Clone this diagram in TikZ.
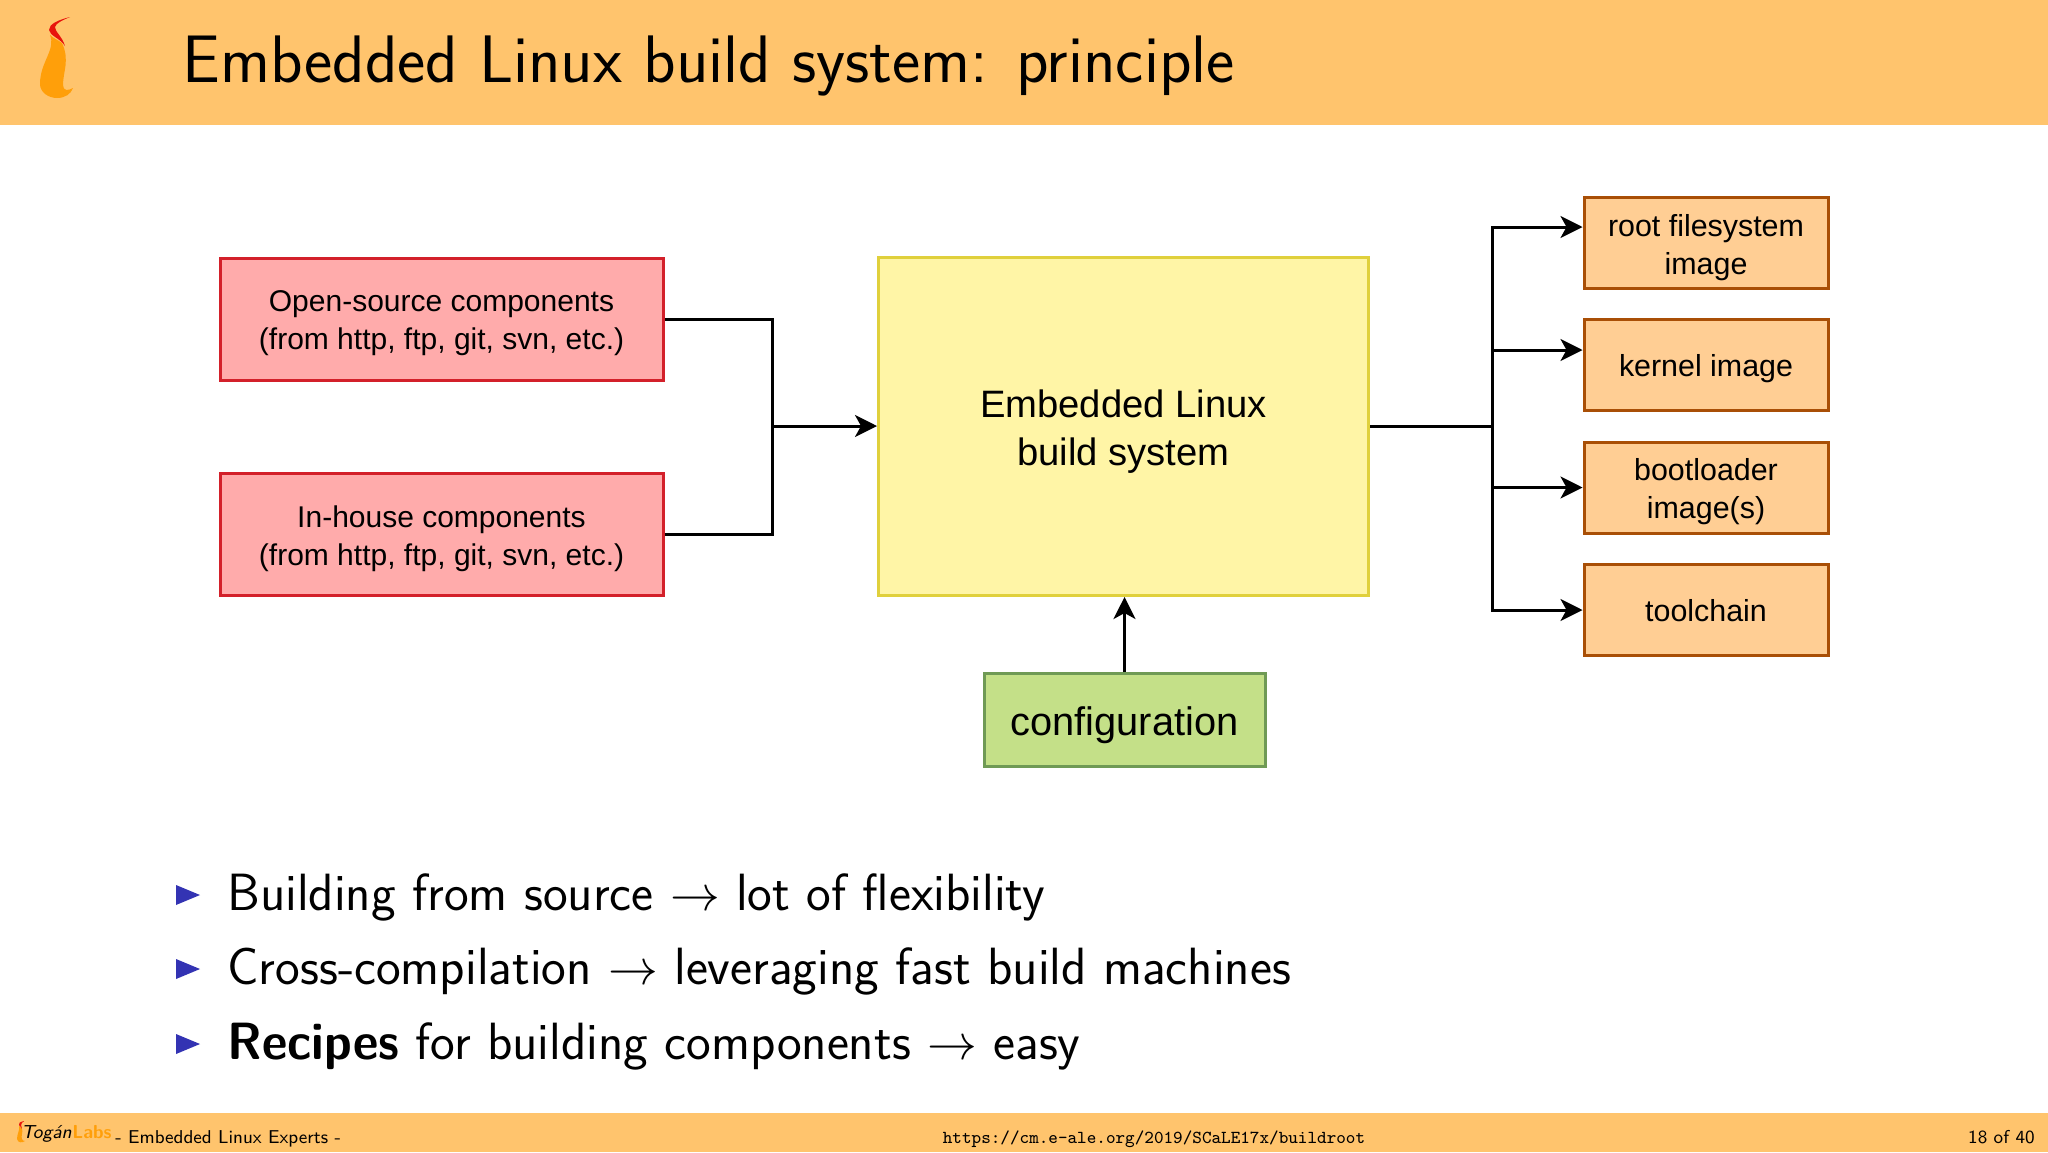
\documentclass[tikz,border=0pt]{standalone}
\usepackage{fontspec}
\usepackage{amsmath}
\usepackage{tikz}
\usetikzlibrary{arrows.meta,calc,positioning}
\newfontfamily\boxfont{Liberation Sans}
\definecolor{barorange}{HTML}{FFC46D}
\definecolor{flameorange}{HTML}{FF9F0A}
\definecolor{flamered}{HTML}{E8140C}
\definecolor{bulletblue}{HTML}{3333B3}
\definecolor{srcfill}{HTML}{FFABAB}
\definecolor{srcline}{HTML}{D3202A}
\definecolor{outfill}{HTML}{FFCE94}
\definecolor{outline}{HTML}{A94F06}
\definecolor{mainfill}{HTML}{FFF5A6}
\definecolor{mainline}{HTML}{E0D03C}
\definecolor{cfgfill}{HTML}{C4E088}
\definecolor{cfgline}{HTML}{6F9A55}
\tikzset{
    boxtext/.style = {align=center, line width=1.5pt, execute at begin node={\rule{0pt}{0.98em}}, execute at end node={\rule[-0.21em]{0pt}{0.21em}}},
    twoline/.style = {execute at begin node={\rule{0pt}{2.25em}}},
    srcbox/.style = {boxtext, twoline, draw=srcline, fill=srcfill, minimum width=221.5pt, minimum height=61pt, font=\boxfont\fontsize{15}{19}\selectfont},
    outbox/.style = {boxtext, draw=outline, fill=outfill, minimum width=122pt, minimum height=45.5pt, font=\boxfont\fontsize{15.2}{19}\selectfont},
    wire/.style = {line width=1.5pt},
    bullettext/.style = {anchor=base west, inner sep=0pt, font=\sffamily\fontsize{26.2}{31}\selectfont},
    bulletmark/.style = {fill=bulletblue}
}
\begin{document}
\begin{tikzpicture}[
        x = 0.5pt,
        y = -0.5pt,
        >= {Stealth[length=11pt,width=11pt,inset=3pt]}
    ]
        \useasboundingbox (0,0) rectangle (2048,1152);
        \fill [white] (0,0) rectangle (2048,1152);
        % bars
        \fill [barorange] (0,0) rectangle (2048,125);
        \fill [barorange] (0,1113) rectangle (2048,1152);
        \fill [flameorange] (50,35) .. controls (56,50) and (40,62) .. (40,84) .. controls (40,92) and (48,98) .. (57,98) .. controls (65,98) and (71,94) .. (73,88) .. controls (68,91) and (63,91) .. (63,85) .. controls (63,72) and (70,60) .. (62,43) .. controls (58,40) and (53,38) .. (50,35) -- cycle;
        \fill [flamered] (70,17) .. controls (58,20) and (49,24) .. (49,30) .. controls (50,36) and (60,38) .. (65,46) .. controls (62,36) and (55,32) .. (55,27) .. controls (56,23) and (63,20) .. (70,17) -- cycle;
        \node (title) [anchor=base west, inner sep=0pt, font=\sffamily\fontsize{33.6}{40}\selectfont] at (182,82) {Embedded Linux build system: principle};
        % boxes
        \node (opensrc) [srcbox] at (441.5,319) {Open-source components\\(from http, ftp, git, svn, etc.)};
        \node (inhouse) [srcbox] at (441.5,534.5) {In-house components\\(from http, ftp, git, svn, etc.)};
        \node (buildsys) [boxtext, twoline, draw=mainline, fill=mainfill, minimum width=245pt, minimum height=169pt, font=\boxfont\fontsize{19.1}{24}\selectfont] at (1123.5,426.5) {Embedded Linux\\build system};
        \node (config) [boxtext, draw=cfgline, fill=cfgfill, minimum width=140.5pt, minimum height=46.5pt, font=\boxfont\fontsize{19.9}{24}\selectfont] at (1124.5,720) {configuration};
        \node (rootimg) [outbox, twoline] at (1706,243) {root filesystem\\image};
        \node (kernelimg) [outbox] at (1706,365) {kernel image};
        \node (bootimg) [outbox, twoline] at (1706,487.5) {bootloader\\image(s)};
        \node (toolchain) [outbox] at (1706,610) {toolchain};
        % connectors
        \coordinate (merge) at (772,426);
        \coordinate (split) at (1492,426);
        \coordinate (rootin) at (rootimg.west |- 0,227);
        \coordinate (kernelin) at (kernelimg.west |- 0,350);
        \draw [wire] (opensrc.east) -| (merge);
        \draw [wire] (inhouse.east) -| (merge);
        \draw [wire,->] (merge) -- (buildsys.west |- merge);
        \draw [wire,->] (config.north) -- (config.north |- buildsys.south);
        \draw [wire] (buildsys.east |- split) -- (split);
        \draw [wire,->] (split) |- (rootin);
        \draw [wire,->] (split) |- (kernelin);
        \draw [wire,->] (split) |- (bootimg.west);
        \draw [wire,->] (split) |- (toolchain.west);
        % bullets
        \fill [bulletmark] (176,885) -- (200,895) -- (176,905) -- cycle;
        \fill [bulletmark] (176,959) -- (200,969) -- (176,979) -- cycle;
        \fill [bulletmark] (176,1034) -- (200,1044) -- (176,1054) -- cycle;
        \node (itemone) [bullettext] at (227,910) {Building from source $\rightarrow$ lot of flexibility};
        \node (itemtwo) [bullettext] at (227,984) {Cross-compilation $\rightarrow$ leveraging fast build machines};
        \node (itemthree) [bullettext] at (227,1059) {\scalebox{0.942}[1]{\textbf{Recipes}} for building components $\rightarrow$ easy};
        % footer
        \node (brand) [anchor=base west, inner sep=0pt, font=\sffamily\itshape\fontsize{9.4}{11}\selectfont] at (21,1138) {Tog\'an};
        \node (labs) [right=0pt of brand.base east, anchor=base west, inner sep=0pt, text=flameorange, font=\sffamily\bfseries\fontsize{9.4}{11}\selectfont] {Labs};
        \node (experts) [anchor=base west, inner sep=0pt, font=\sffamily\fontsize{9.3}{11}\selectfont] at (115,1143) {- Embedded Linux Experts -};
        \node (url) [anchor=base, inner sep=0pt, font=\ttfamily\fontsize{9.14}{11}\selectfont] at (1154,1143) {https://cm.e-ale.org/2019/SCaLE17x/buildroot};
        \node (page) [anchor=base east, inner sep=0pt, font=\sffamily\fontsize{9.3}{11}\selectfont] at (2035,1143) {18 of 40};
        \fill [flameorange] (19,1126) .. controls (20,1130) and (17,1134) .. (17,1139) .. controls (18,1143) and (22,1143) .. (25,1141) .. controls (22,1141) and (21,1138) .. (22,1134) .. controls (23,1130) and (22,1127) .. (19,1126) -- cycle;
        \fill [flamered] (24,1121) .. controls (20,1122) and (18,1123) .. (19,1125) .. controls (20,1126) and (21,1127) .. (22,1129) .. controls (21,1126) and (20,1124) .. (24,1121) -- cycle;
    \end{tikzpicture}
\end{document}
